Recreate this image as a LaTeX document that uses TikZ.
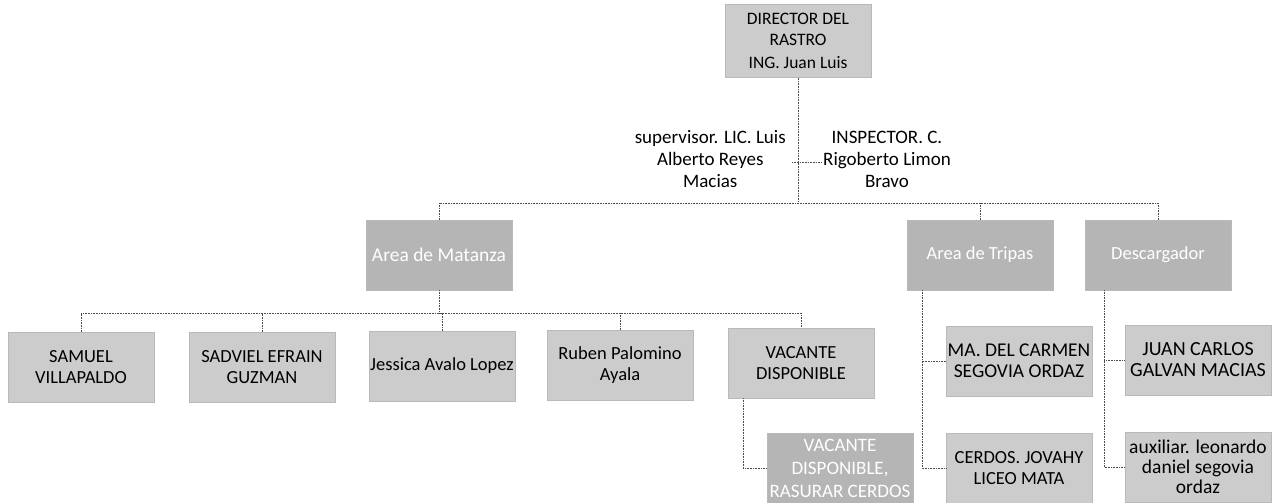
\documentclass[tikz,border=0pt]{standalone}
\usepackage{fontspec}
\setmainfont{Carlito}
\usepackage{tikz}
\usepackage{xcolor}

\tikzset{
  caja/.style={fill=gray!40, draw=gray!55, minimum width=146pt, minimum height=70pt,
    align=center, inner sep=1pt, font=\fontsize{18.5}{21}\selectfont},
  cajaosc/.style={caja, fill=gray!58, text=white},
  liga/.style={densely dotted, draw=gray!60!black, line width=0.6pt},
  texto/.style={align=center, inner sep=2pt},
  tam/.style args={#1/#2}{font=\fontsize{#1}{#2}\selectfont}
}

\begin{document}
\begin{tikzpicture}[x=1pt,y=-1pt]
\useasboundingbox (0,0) rectangle (1279,503);

\node[caja, minimum height=73pt, tam=17.5/21] (dir) at (798,41) {DIRECTOR DEL\\RASTRO\\[2pt]ING. Juan Luis};

\node[texto, anchor=east, tam=19/22] (sup) at (788,159) {supervisor. LIC. Luis\\Alberto Reyes\\Macias};
\node[texto, anchor=west, tam=19/22] (insp) at (821,159) {INSPECTOR. C.\\Rigoberto Limon\\Bravo};
\coordinate (asisl) at (792,162);
\coordinate (asisr) at (822,162);
\draw[liga] (asisl) -- (asisr);

\node[cajaosc, tam=19.5/23] (mat) at (439,255) {Area de Matanza};
\node[cajaosc] (trip) at (980,255) {Area de Tripas};
\node[cajaosc] (desc) at (1158,255) {Descargador};
\coordinate (bus) at (798,203);
\draw[liga] (dir) -- (bus);
\draw[liga] (mat.north) |- (bus) -| (desc.north);
\draw[liga] (trip.north) -- (trip.north |- bus);

\node[caja] (sam) at (81,367) {SAMUEL\\VILLAPALDO};
\node[caja] (sad) at (262,367) {SADVIEL EFRAIN\\GUZMAN};
\node[caja] (jes) at (442,366) {Jessica Avalo Lopez};
\node[caja] (rub) at (620,365) {Ruben Palomino\\Ayala};
\node[caja] (vac) at (801,363) {VACANTE\\DISPONIBLE};
\node[caja, tam=19.5/21] (car) at (1019,361) {MA. DEL CARMEN\\SEGOVIA ORDAZ};
\node[caja, tam=20/21] (jua) at (1198,360) {JUAN CARLOS\\GALVAN MACIAS};
\coordinate (mbus) at (439,313);
\draw[liga] (mat) -- (mbus);
\draw[liga] (sam.north) |- (mbus) -| (vac.north);
\draw[liga] (sad.north) -- (sad.north |- mbus);
\draw[liga] (jes.north) -- (jes.north |- mbus);
\draw[liga] (rub.north) -- (rub.north |- mbus);

\node[cajaosc, tam=19/23] (ras) at (840,468) {VACANTE\\DISPONIBLE,\\RASURAR CERDOS};
\node[caja] (cer) at (1019,468) {CERDOS. JOVAHY\\LICEO MATA};
\node[caja, tam=19.5/20] (aux) at (1198,467) {auxiliar. leonardo\\daniel segovia\\ordaz};
\draw[liga] ([xshift=15pt]vac.south west) |- (ras.west);
\draw[liga] ([xshift=15pt]trip.south west) |- (car.west);
\draw[liga] ([xshift=15pt]trip.south west) |- (cer.west);
\draw[liga] ([xshift=19pt]desc.south west) |- (jua.west);
\draw[liga] ([xshift=19pt]desc.south west) |- (aux.west);

\end{tikzpicture}
\end{document}
